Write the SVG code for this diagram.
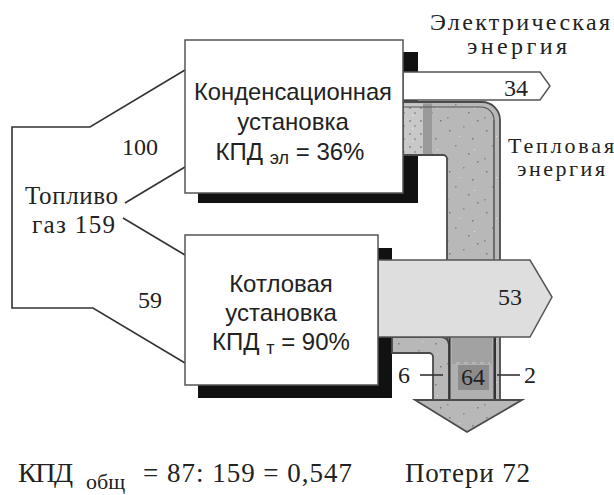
<svg xmlns="http://www.w3.org/2000/svg" width="614" height="495" viewBox="0 0 614 495">
<defs>
<pattern id="speck" width="37" height="41" patternUnits="userSpaceOnUse">
<rect width="37" height="41" fill="#b8b8b8"/>
<rect x="5" y="7" width="1.5" height="1.5" fill="#7a7a7a"/>
<rect x="19" y="3" width="1.5" height="1.5" fill="#8a8a8a"/>
<rect x="28" y="15" width="1.5" height="1.5" fill="#7a7a7a"/>
<rect x="11" y="22" width="1.5" height="1.5" fill="#858585"/>
<rect x="24" y="30" width="1.5" height="1.5" fill="#7a7a7a"/>
<rect x="3" y="35" width="1.5" height="1.5" fill="#8a8a8a"/>
<rect x="33" y="38" width="1.5" height="1.5" fill="#7a7a7a"/>
<rect x="15" y="13" width="1" height="1" fill="#e0e0e0"/>
<rect x="30" y="26" width="1" height="1" fill="#e0e0e0"/>
</pattern>
<pattern id="speck2" width="11" height="13" patternUnits="userSpaceOnUse">
<rect width="11" height="13" fill="#c8c8c8"/>
<rect x="2" y="3" width="2" height="2" fill="#999"/>
<rect x="7" y="8" width="2" height="2" fill="#a0a0a0"/>
<rect x="5" y="11" width="1" height="1" fill="#eee"/>
</pattern>
</defs>
<style>
.box{fill:#ffffff;stroke:#555555;stroke-width:1.5}
.shadow{fill:#111111}
.pipe{stroke:#4a4a4a;stroke-width:1.8}
.fline{fill:none;stroke:#333333;stroke-width:1.6}
.sans{font-family:"Liberation Sans",Arial,sans-serif;fill:#222222}
.serif{font-family:"Liberation Serif","Times New Roman",serif;fill:#222222}
</style>

<g id="fuel-input">
<polyline class="fline" points="185,70 90,127 12,127 12,308 93,308 185,363"/>
<line class="fline" x1="125" y1="203" x2="185" y2="167"/>
<line class="fline" x1="123" y1="218" x2="185" y2="255"/>
<text class="serif" x="140" y="155" font-size="24" text-anchor="middle">100</text>
<text class="serif" x="150" y="308" font-size="24" text-anchor="middle">59</text>
<text class="serif" x="25" y="204" font-size="25" textLength="93" lengthAdjust="spacing">Топливо</text>
<text class="serif" x="32" y="233" font-size="25" textLength="83" lengthAdjust="spacing">газ 159</text>
</g>

<g id="connectors">
<rect class="shadow" x="198" y="52" width="220" height="151"/>
<rect class="shadow" x="198" y="248" width="194" height="150"/>
<path class="pipe" fill="url(#speck)" d="M403,102 H482 A18,18 0 0 1 500,120 V400 H447 V159 A4,4 0 0 0 443,155 H403 Z"/>
<rect x="404" y="103.5" width="19" height="50.5" fill="url(#speck2)"/>
<rect x="423" y="103.5" width="9" height="50.5" fill="#9a9a9a"/>
<line x1="494" y1="120" x2="494" y2="400" stroke="#555" stroke-width="1.5"/>
<path d="M403,107 H481 A13,13 0 0 1 494,120" fill="none" stroke="#555" stroke-width="1.2"/>
<path class="pipe" fill="url(#speck)" d="M392,337 H441 A8,8 0 0 1 449,345 V400 H433 V357 A4,4 0 0 0 429,353 H392 Z"/>
<rect x="450" y="338" width="43" height="62" fill="#b0b0b0"/>
<rect x="452" y="338" width="40" height="26" fill="#a2a2a2"/>
<line x1="456" y1="363" x2="490" y2="363" stroke="#c8c8c8" stroke-width="1" stroke-dasharray="4,4"/>
<rect x="458" y="365" width="31" height="25" fill="#8c8c8c"/>
<line x1="449.5" y1="337" x2="449.5" y2="402" stroke="#333" stroke-width="2"/>
<line x1="495" y1="337" x2="495" y2="402" stroke="#333" stroke-width="2"/>
<polygon class="pipe" fill="url(#speck)" points="415,400 522,400 467,432"/>
<polygon points="403,72 540,72 550,86 540,100 403,100" fill="#ffffff" stroke="#555555" stroke-width="1.5"/>
<polygon points="378,260 530,260 552,297 530,337 378,337" fill="#dedede" stroke="#555555" stroke-width="1.5"/>
<line x1="420" y1="375" x2="443" y2="375" stroke="#333" stroke-width="1.6"/>
<line x1="497" y1="375" x2="520" y2="375" stroke="#333" stroke-width="1.6"/>
</g>

<g id="condensation-unit">
<rect class="box" x="185" y="40" width="218" height="153"/>
<text class="sans" x="293" y="100" font-size="24" text-anchor="middle" textLength="198" lengthAdjust="spacingAndGlyphs">Конденсационная</text>
<text class="sans" x="293" y="130" font-size="24" text-anchor="middle">установка</text>
<text class="sans" x="290" y="160" font-size="24" text-anchor="middle">КПД <tspan font-size="18" dy="4">эл</tspan><tspan dy="-4"> = 36%</tspan></text>
</g>

<g id="boiler-unit">
<rect class="box" x="185" y="235" width="193" height="150"/>
<text class="sans" x="281" y="292" font-size="24" text-anchor="middle">Котловая</text>
<text class="sans" x="281" y="321" font-size="24" text-anchor="middle">установка</text>
<text class="sans" x="281" y="350" font-size="24" text-anchor="middle">КПД <tspan font-size="18" dy="4">т</tspan><tspan dy="-4"> = 90%</tspan></text>
</g>

<g id="labels">
<text class="serif" x="430" y="30" font-size="24" textLength="180" lengthAdjust="spacing">Электрическая</text>
<text class="serif" x="467" y="54" font-size="24" textLength="100" lengthAdjust="spacing">энергия</text>
<text class="serif" x="516" y="96" font-size="24" text-anchor="middle">34</text>
<text class="serif" x="508" y="153" font-size="22" textLength="106" lengthAdjust="spacing">Тепловая</text>
<text class="serif" x="517" y="176" font-size="22" textLength="88" lengthAdjust="spacing">энергия</text>
<text class="serif" x="510" y="305" font-size="24" text-anchor="middle">53</text>
<text class="serif" x="404" y="383" font-size="24" text-anchor="middle">6</text>
<text class="serif" x="473" y="385" font-size="24" text-anchor="middle">64</text>
<text class="serif" x="530" y="383" font-size="24" text-anchor="middle">2</text>
<text class="serif" x="18" y="482" font-size="28" textLength="55" lengthAdjust="spacing">КПД</text>
<text class="serif" x="86" y="489" font-size="22">общ</text>
<text class="serif" x="143" y="482" font-size="27" textLength="209" lengthAdjust="spacing">=  87: 159 = 0,547</text>
<text class="serif" x="405" y="482" font-size="27" textLength="125" lengthAdjust="spacing">Потери 72</text>
</g>
</svg>
